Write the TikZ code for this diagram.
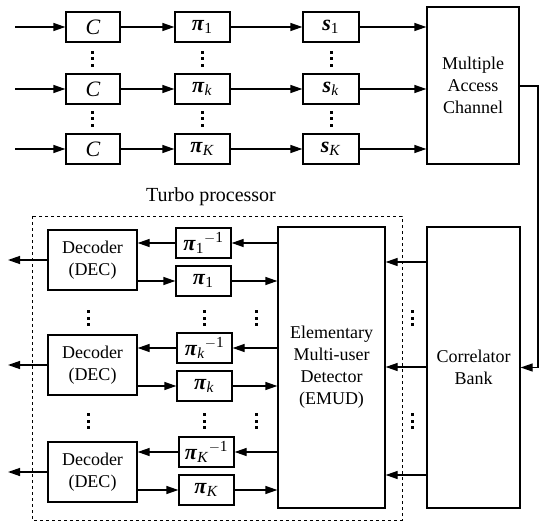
\documentclass[tikz,border=0pt]{standalone}
\usepackage{fontspec}
\setmainfont{Liberation Serif}
\usetikzlibrary{arrows.meta, positioning}

% italic symbol with sub- and superscript, set from the text font
\newcommand{\sym}[3]{#1\textsubscript{#2}\textsuperscript{#3}}
\newcommand{\pii}{\textbf{\textit{π}}}
\newcommand{\ess}{\textbf{\textit{s}}}

\begin{document}
\begin{tikzpicture}[x=1pt,y=-1pt,
  font=\fontsize{18}{22}\selectfont,
  >={Triangle[length=12pt,width=8pt]},
  blk/.style={draw, line width=1.3pt, inner sep=0pt, align=center},
  small/.style={blk, minimum width=55pt, minimum height=30pt, font=\fontsize{22}{22}\selectfont},
  dec/.style={blk, minimum width=89pt, minimum height=60pt},
  link/.style={line width=1.3pt, ->}]
\useasboundingbox (0,0) rectangle (540,521);

% transmitter side
\node[small, minimum width=54pt] (c1) at (93,27) {\textit{C}};
\node[small, minimum width=54pt] (ck) at (93,89) {\textit{C}};
\node[small, minimum width=54pt] (cK) at (93,149) {\textit{C}};
\node[small] (p1) at (202.5,27) {\sym{\pii}{1}{}};
\node[small] (pk) at (202.5,89) {\sym{\pii}{\textit{k}}{}};
\node[small] (pK) at (202.5,149) {\sym{\pii}{\textit{K}}{}};
\node[small, minimum width=56pt] (s1) at (331,27) {\sym{\ess}{1}{}};
\node[small, minimum width=56pt] (sk) at (331,89) {\sym{\ess}{\textit{k}}{}};
\node[small, minimum width=56pt] (sK) at (331,149) {\sym{\ess}{\textit{K}}{}};
\node[blk, minimum width=92pt, minimum height=157pt] (mac) at (473,85.5) {Multiple\\Access\\Channel};

\coordinate (in1) at (15,27);
\coordinate (ink) at (15,89);
\coordinate (inK) at (15,149);

\foreach \r in {1,k,K}
{
  \draw[link] (in\r) -- (c\r);
  \draw[link] (c\r) -- (p\r);
  \draw[link] (p\r) -- (s\r);
  \draw[link] (s\r) -- (s\r.east -| mac.west);
}

\foreach \x in {92,202.5,331}
  \foreach \y in {59,119}
    \foreach \d in {-6.5,0,6.5}
      \fill (\x-1.5,\y+\d-1.5) rectangle ++(3,3);

% receiver side
\node[blk, minimum width=93pt, minimum height=281pt] (cb) at (473.5,367.5) {Correlator\\Bank};
\node[blk, minimum width=107pt, minimum height=281pt] (emud) at (331.5,367.5) {Elementary\\Multi-user\\Detector\\(EMUD)};

\draw[link] (mac.east |- 0,86) -- (538,86) |- (cb.east);

\foreach \y in {262,367,475}
  \draw[link] (cb.west |- 0,\y) -- (emud.east |- 0,\y);

% turbo processor
\draw[dashed, line width=0.9pt] (32,216) rectangle (402,520);
\node[font=\fontsize{20}{22}\selectfont] (tp) at (211,197) {Turbo processor};

\node[dec] (d1) at (92.5,260) {Decoder\\(DEC)};
\node[dec] (dk) at (92.5,365) {Decoder\\(DEC)};
\node[dec] (dK) at (92.5,472) {Decoder\\(DEC)};
\node[small] (q1) at (203.5,243) {\sym{\pii}{1}{$-$1}};
\node[small] (qk) at (204.5,348) {\sym{\pii}{\textit{k}}{$-$1}};
\node[small] (qK) at (206.5,452) {\sym{\pii}{\textit{K}}{$-$1}};
\node[small] (r1) at (203.5,281) {\sym{\pii}{1}{}};
\node[small] (rk) at (204.5,386) {\sym{\pii}{\textit{k}}{}};
\node[small] (rK) at (206.5,490) {\sym{\pii}{\textit{K}}{}};

\coordinate (out1) at (8,260);
\coordinate (outk) at (8,365);
\coordinate (outK) at (8,472);

\foreach \r in {1,k,K}
{
  \draw[link] (emud.west |- q\r) -- (q\r);
  \draw[link] (q\r) -- (q\r -| d\r.east);
  \draw[link] (d\r.east |- r\r) -- (r\r);
  \draw[link] (r\r) -- (r\r -| emud.west);
  \draw[link] (d\r) -- (out\r);
}

\foreach \x in {88,204,256,412}
  \foreach \y in {318,421}
    \foreach \d in {-6.5,0,6.5}
      \fill (\x-1.5,\y+\d-1.5) rectangle ++(3,3);
\end{tikzpicture}
\end{document}
